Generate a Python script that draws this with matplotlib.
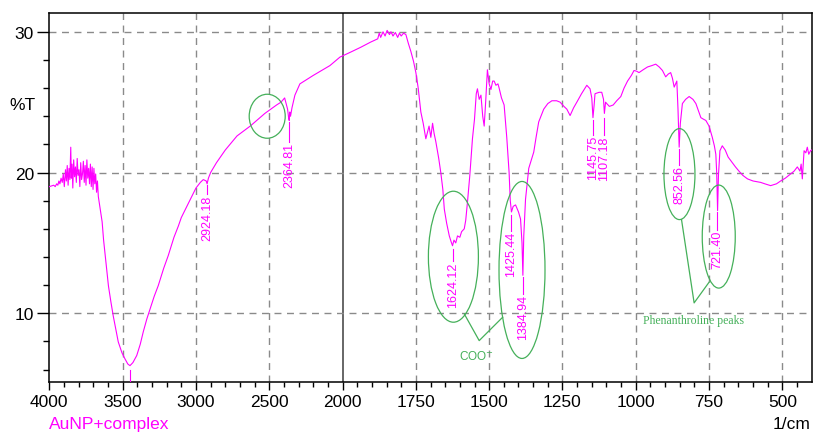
import numpy as np
import matplotlib
matplotlib.use('Agg')
import matplotlib.pyplot as plt
import matplotlib.transforms as mtransforms
from matplotlib.patches import Ellipse
from matplotlib.ticker import FixedLocator, NullFormatter

plt.rcParams['font.family'] = ['Liberation Sans', 'DejaVu Sans']

# spectrum (wavenumber 1/cm, %T)
wavenumber = [4000, 3985, 3970, 3960, 3950, 3942, 3935, 3928, 3920, 3912, 3905, 3898,
              3890, 3884, 3878, 3872, 3866, 3860, 3854, 3850, 3845, 3840, 3834, 3828,
              3822, 3816, 3810, 3804, 3798, 3792, 3786, 3780, 3774, 3768, 3762, 3756,
              3750, 3744, 3738, 3732, 3726, 3720, 3714, 3708, 3702, 3696, 3690, 3684,
              3678, 3672, 3666, 3650, 3640, 3630, 3619, 3608, 3597, 3580, 3564, 3547,
              3530, 3505, 3484, 3465, 3450, 3430, 3404, 3380, 3359, 3335, 3313, 3285,
              3257, 3220, 3189, 3150, 3120, 3100, 3052, 3000, 2970, 2950, 2930, 2924,
              2915, 2900, 2860, 2800, 2720, 2630, 2530, 2450, 2420, 2395, 2385, 2375,
              2368, 2364, 2360, 2355, 2345, 2325, 2291, 2200, 2086, 2018, 1972, 1938,
              1920, 1904, 1890, 1880, 1875, 1870, 1862, 1855, 1848, 1840, 1835, 1828,
              1820, 1812, 1806, 1800, 1792, 1784, 1776, 1767, 1758, 1750, 1742, 1733,
              1725, 1716, 1710, 1705, 1699, 1693, 1688, 1682, 1672, 1665, 1658, 1653,
              1645, 1636, 1630, 1625, 1620, 1614, 1608, 1600, 1594, 1585, 1580, 1574,
              1566, 1557, 1550, 1544, 1540, 1534, 1528, 1522, 1517, 1512, 1506, 1500,
              1494, 1488, 1483, 1477, 1470, 1466, 1458, 1449, 1440, 1432, 1428, 1424,
              1418, 1410, 1400, 1393, 1388, 1385, 1382, 1376, 1365, 1356, 1348, 1340,
              1331, 1314, 1300, 1286, 1270, 1258, 1245, 1235, 1224, 1212, 1201, 1185,
              1167, 1156, 1150, 1146, 1142, 1139, 1125, 1116, 1110, 1107, 1103, 1099,
              1090, 1077, 1065, 1051, 1040, 1028, 1015, 1006, 997, 989, 975, 960,
              945, 932, 920, 909, 898, 889, 881, 875, 869, 864, 860, 856,
              852, 848, 841, 830, 818, 805, 795, 785, 778, 770, 761, 750,
              739, 732, 727, 724, 721, 718, 713, 705, 695, 685, 676, 660,
              648, 635, 619, 600, 574, 560, 540, 520, 506, 490, 472, 460,
              449, 440, 436, 432, 429, 426, 420, 415, 410, 404, 400]
transmittance = [19.0, 19.05, 19.1, 19.0, 19.2, 19.1, 19.4, 19.2, 19.6, 19.3, 19.9, 19.0,
                 20.2, 19.4, 20.5, 19.1, 20.3, 19.5, 21.8, 19.6, 20.6, 18.9, 20.9, 19.7,
                 20.4, 19.3, 21.0, 19.8, 20.2, 19.0, 20.7, 19.5, 19.9, 20.8, 19.3, 20.5,
                 19.1, 20.9, 19.6, 20.3, 19.2, 20.6, 19.0, 20.4, 18.8, 20.3, 19.2, 19.9,
                 18.6, 19.4, 18.3, 17.2, 16.5, 15.2, 14.1, 13.0, 11.95, 10.8, 9.8, 8.9,
                 7.97, 7.2, 6.76, 6.4, 6.28, 6.5, 7.0, 7.8, 8.7, 9.6, 10.3, 11.2,
                 11.97, 13.2, 14.1, 15.4, 16.2, 16.8, 17.8, 18.9, 19.3, 19.5, 19.4, 19.2,
                 19.6, 20.0, 20.7, 21.6, 22.6, 23.3, 24.2, 24.8, 25.0, 25.3, 24.9, 24.5,
                 23.9, 23.7, 24.3, 24.0, 24.6, 25.5, 26.3, 26.9, 27.6, 28.2, 28.56, 28.9,
                 29.1, 29.27, 29.4, 29.5, 29.9, 29.6, 30.0, 29.7, 30.1, 29.8, 30.0, 29.7,
                 29.95, 29.6, 29.9, 29.7, 29.9, 29.8, 29.2, 28.6, 27.9, 27.1, 26.0, 24.3,
                 23.5, 22.4, 22.9, 23.3, 22.5, 23.5, 22.8, 22.2, 21.0, 20.0, 18.8, 17.4,
                 16.4, 15.5, 15.1, 14.8, 15.2, 15.0, 15.5, 15.4, 15.8, 16.0, 16.6, 17.9,
                 19.8, 22.4, 23.8, 25.6, 25.95, 25.2, 25.5, 24.0, 23.3, 25.0, 27.3, 26.3,
                 25.9, 26.5, 26.5, 26.2, 26.3, 26.0, 25.3, 24.8, 22.5, 20.0, 18.0, 17.2,
                 17.6, 17.7, 17.2, 16.7, 15.0, 12.7, 15.5, 18.1, 20.3, 20.9, 21.45, 22.5,
                 23.6, 24.5, 24.9, 25.1, 25.1, 25.0, 24.7, 24.5, 24.05, 24.6, 25.0, 25.6,
                 26.2, 25.95, 25.3, 23.9, 24.8, 25.6, 25.7, 25.7, 25.2, 24.2, 25.0, 24.9,
                 24.7, 24.8, 25.1, 25.4, 26.0, 26.5, 26.9, 27.25, 27.2, 27.1, 27.3, 27.5,
                 27.6, 27.7, 27.5, 27.25, 26.8, 27.0, 27.1, 26.7, 26.07, 26.3, 26.5, 24.5,
                 21.8, 23.5, 24.9, 25.2, 25.4, 25.2, 24.9, 24.3, 23.9, 23.8, 23.7, 23.3,
                 22.5, 21.9, 21.3, 20.0, 17.3, 19.8, 21.55, 21.9, 21.6, 21.1, 20.85, 20.4,
                 20.1, 19.8, 19.55, 19.4, 19.3, 19.2, 19.07, 19.2, 19.4, 19.6, 19.9, 20.1,
                 20.4, 20.1, 20.6, 19.55, 20.5, 21.55, 21.4, 21.8, 21.3, 21.55, 21.6]

# peak labels: label, wavenumber, line top %T, text top %T
peak_labels = ['2924.18', '2364.81', '1624.12', '1425.44', '1384.94',
               '1145.75', '1107.18', '852.56', '721.40']
peak_pos = [2924.18, 2364.81, 1624.12, 1425.44, 1384.94, 1145.75, 1107.18, 852.56, 721.40]
peak_line_top = [19.1, 23.6, 14.6, 17.0, 12.55, 23.7, 23.9, 21.65, 17.2]
peak_text_top = [18.45, 22.15, 13.7, 15.85, 11.35, 22.65, 22.65, 20.55, 15.95]

# highlight ellipses: centre wavenumber, centre %T, width px, height px
ell_x = [2514, 1622, 1388, 851, 717]
ell_y = [24.0, 14.02, 13.08, 19.89, 15.45]
ell_w = [36, 50, 46, 31, 33]
ell_h = [44, 131, 177, 91, 103]

xticks = [4000, 3500, 3000, 2500, 2000, 1750, 1500, 1250, 1000, 750, 500]
yticks = [10, 20, 30]

MAGENTA = '#ff00ff'
GREEN = '#45b05a'


# axis is stretched 2x below 2000 1/cm
def fwd(w):
    w = np.asarray(w, dtype=float)
    return np.where(w >= 2000, w, 2 * w - 2000)


def inv(u):
    u = np.asarray(u, dtype=float)
    return np.where(u >= 2000, u, (u + 2000) / 2.0)


fig = plt.figure(figsize=(8.13, 4.35), dpi=100)
ax = fig.add_axes([0.0607, 0.1202, 0.9377, 0.8465])
ax.set_xscale('function', functions=(fwd, inv))
ax.set_xlim(4000, 400)
ax.set_ylim(5.14, 31.3)

# grid
for x in xticks[1:]:
    if x == 2000:
        ax.axvline(x, color='#666666', lw=1.4, zorder=1)
    else:
        ax.axvline(x, color='#8a8a8a', lw=1.0, dashes=(5, 4), zorder=1)
for y in yticks:
    ax.axhline(y, color='#8a8a8a', lw=1.0, dashes=(5, 4), zorder=1)

ax.plot(wavenumber, transmittance, color=MAGENTA, lw=0.8, zorder=3)

# minimum marker at 3450 (label falls below the frame)
ax.plot([3450, 3450], [5.95, 4.5], color=MAGENTA, lw=0.8, zorder=3)

for lab, xp, lt, tt in zip(peak_labels, peak_pos, peak_line_top, peak_text_top):
    ax.plot([xp, xp], [lt, tt], color=MAGENTA, lw=0.8, zorder=3)
    ax.text(xp, tt, lab, rotation=90, ha='center', va='top', fontsize=9,
            color=MAGENTA, zorder=4)

for cx, cy, w, h in zip(ell_x, ell_y, ell_w, ell_h):
    tr = fig.dpi_scale_trans + mtransforms.ScaledTranslation(cx, cy, ax.transData)
    ax.add_patch(Ellipse((0, 0), w / 100.0, h / 100.0, transform=tr,
                         fill=False, edgecolor=GREEN, lw=0.9, zorder=4))

# connectors to the notes
ax.plot([1585, 1534, 1454], [9.96, 8.06, 9.72], color=GREEN, lw=0.9, zorder=4)
ax.text(1544, 6.97, 'COO$^{-}$', color=GREEN, fontsize=8.5, ha='center', va='center')
ax.plot([844, 801, 750], [16.66, 10.74, 12.21], color=GREEN, lw=0.9, zorder=4)
ax.text(802, 9.53, 'Phenanthroline peaks', color=GREEN, fontsize=8.5,
        family='Liberation Serif', ha='center', va='center')

# ticks
ax.xaxis.set_major_locator(FixedLocator(xticks))
ax.set_xticklabels([str(t) for t in xticks])
ax.xaxis.set_minor_locator(FixedLocator(list(range(3900, 2000, -100)) +
                                        list(range(1950, 400, -50))))
ax.xaxis.set_minor_formatter(NullFormatter())
ax.yaxis.set_major_locator(FixedLocator(yticks))
ax.yaxis.set_minor_locator(FixedLocator([6, 8, 12, 14, 16, 18, 22, 24, 26, 28]))
ax.tick_params(axis='x', which='major', length=6, width=1, direction='out',
               labelsize=12.5, pad=3)
ax.tick_params(axis='x', which='minor', length=3.6, width=1, direction='out')
ax.tick_params(axis='y', which='major', length=9, width=1, direction='out',
               labelsize=12.5, pad=2)
ax.tick_params(axis='y', which='minor', length=4.3, width=1, direction='out')
for s in ax.spines.values():
    s.set_linewidth(1.1)

fig.text(0.012, 1 - 105 / 435, '%T', fontsize=12.5, va='center', ha='left')
fig.text(49 / 813, 1 - 425 / 435, 'AuNP+complex', fontsize=12.5, color=MAGENTA,
         va='center', ha='left')
fig.text(810 / 813, 1 - 425 / 435, '1/cm', fontsize=12.5, va='center', ha='right')

fig.savefig('out.png', dpi=100)
